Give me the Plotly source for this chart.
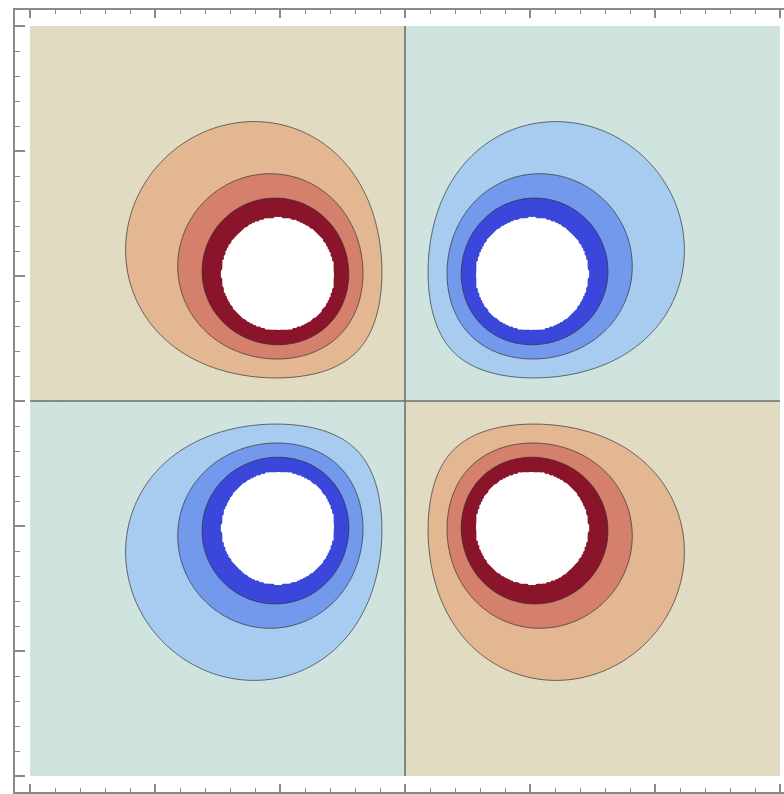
import numpy as np
import plotly.graph_objects as go

# Point charges of the quadrupole: positions and signs
charge_x = [-1.0, 1.0, -1.0, 1.0]
charge_y = [1.0, 1.0, -1.0, -1.0]
charge_q = [1.0, -1.0, -1.0, 1.0]

# Potential levels of the contour lines (symmetric about zero) and the clip level
contour_levels = [0.0, 0.35, 0.70, 1.05]
clip_level = 1.535

# Band colours from most negative to most positive; outermost bands are clipped (white)
band_colors = [
    "#ffffff",  # below -clip
    "#3a47da",
    "#7299ec",
    "#a8ccf0",
    "#d0e4df",
    "#e1dbc1",
    "#e4b793",
    "#d4806d",
    "#8a1429",
    "#ffffff",  # above +clip
]

x_range = (-3.0, 3.0)
y_range = (-3.0, 3.0)
n_grid = 500

xs = np.linspace(x_range[0], x_range[1], n_grid)
ys = np.linspace(y_range[0], y_range[1], n_grid)
X, Y = np.meshgrid(xs, ys)

V = np.zeros_like(X)
for cx, cy, q in zip(charge_x, charge_y, charge_q):
    r = np.sqrt((X - cx) ** 2 + (Y - cy) ** 2) + 1e-9
    V += q / r
V = np.clip(V, -50, 50)

# Map potential onto band index space so each level becomes an integer
lv = contour_levels + [clip_level, 50.0]
idx = list(range(len(contour_levels))) + [len(contour_levels), len(contour_levels) + 1]
Z = np.sign(V) * np.interp(np.abs(V), lv, idx)

n_lev = len(contour_levels)  # levels at -n_lev .. n_lev (n_lev = clip)
nb = len(band_colors)
colorscale = []
for k, c in enumerate(band_colors):
    lo = max(0.0, (k - 0.5) / (nb - 1))
    hi = min(1.0, (k + 0.5) / (nb - 1))
    colorscale.append([lo, c])
    colorscale.append([hi, c])

fig = go.Figure()

# Filled bands
fig.add_trace(go.Contour(
    x=xs, y=ys, z=Z,
    autocontour=False,
    contours=dict(start=-n_lev, end=n_lev, size=1, coloring="fill", showlines=False),
    colorscale=colorscale,
    showscale=False,
    hoverinfo="skip",
    line=dict(width=0),
))

# Contour lines (excluding the clip boundary)
fig.add_trace(go.Contour(
    x=xs, y=ys, z=Z,
    autocontour=False,
    contours=dict(start=-(n_lev - 1), end=n_lev - 1, size=1, coloring="none"),
    line=dict(color="rgba(45,45,45,0.7)", width=1),
    showscale=False,
    hoverinfo="skip",
))

# Zero contour drawn a little heavier
fig.add_trace(go.Contour(
    x=xs, y=ys, z=Z,
    autocontour=False,
    contours=dict(start=0, end=0, size=1, coloring="none"),
    line=dict(color="rgba(90,100,100,0.7)", width=1.2),
    showscale=False,
    hoverinfo="skip",
))

frame_color = "#8a8a8a"
fig.update_xaxes(
    range=[-3.12, 3.032],
    showgrid=False, zeroline=False, showticklabels=False,
    showline=True, linecolor=frame_color, linewidth=2, mirror="ticks",
    ticks="inside", tickmode="linear", tick0=0, dtick=1,
    ticklen=8, tickwidth=1.5, tickcolor=frame_color,
    minor=dict(ticks="inside", dtick=0.2, tick0=0, ticklen=4, tickwidth=1.2, tickcolor=frame_color),
)
fig.update_yaxes(
    range=[-3.128, 3.128],
    showgrid=False, zeroline=False, showticklabels=False,
    showline=True, linecolor=frame_color, linewidth=2, mirror=False,
    ticks="inside", tickmode="linear", tick0=0, dtick=1,
    ticklen=10, tickwidth=1.5, tickcolor=frame_color,
    minor=dict(ticks="inside", dtick=0.2, tick0=0, ticklen=5, tickwidth=1.2, tickcolor=frame_color),
)

fig.update_layout(
    width=784, height=794,
    margin=dict(l=15, r=0, t=10, b=2),
    paper_bgcolor="white",
    plot_bgcolor="white",
    showlegend=False,
)

fig.write_html("out.html")
